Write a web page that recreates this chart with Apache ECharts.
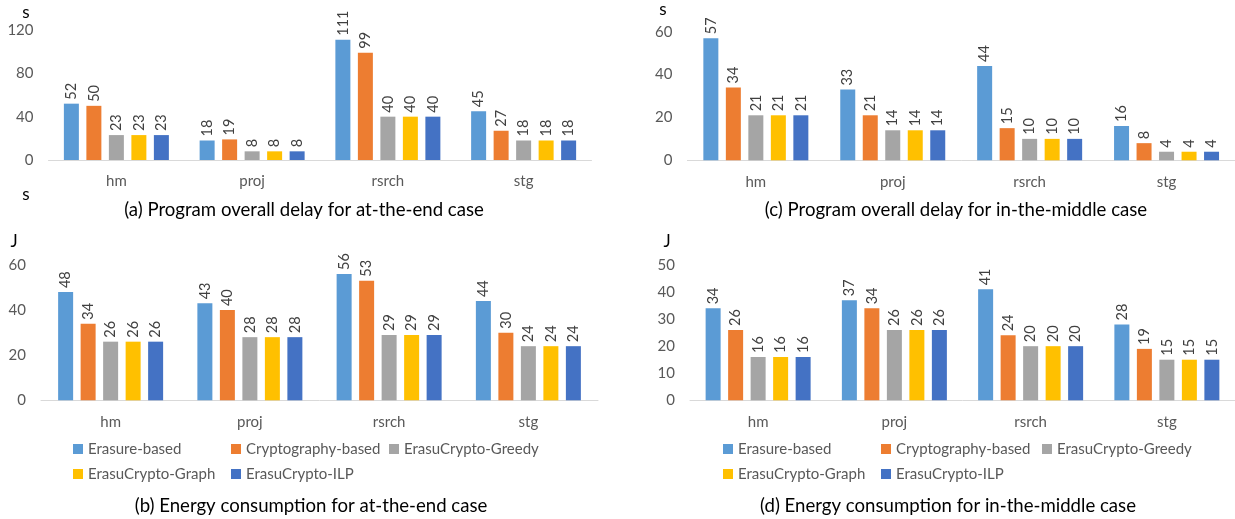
<!DOCTYPE html>
<html><head><meta charset="utf-8">
<script src="https://cdn.jsdelivr.net/npm/echarts@6/dist/echarts.min.js"></script>
<style>html,body{margin:0;padding:0;background:#fff}#c{width:1235px;height:519px}</style>
</head><body><div id="c"></div>
<script>
const categories = ['hm', 'proj', 'rsrch', 'stg'];
const seriesNames = ['Erasure-based', 'Cryptography-based', 'ErasuCrypto-Greedy', 'ErasuCrypto-Graph', 'ErasuCrypto-ILP'];
const colors = ['#5B9BD5', '#ED7D31', '#A5A5A5', '#FFC000', '#4472C4'];

// (a) Program overall delay, at-the-end (s)
const delayEnd_Erasure = [52, 18, 111, 45];
const delayEnd_Crypto  = [50, 19, 99, 27];
const delayEnd_Greedy  = [23, 8, 40, 18];
const delayEnd_Graph   = [23, 8, 40, 18];
const delayEnd_ILP     = [23, 8, 40, 18];
// (c) Program overall delay, in-the-middle (s)
const delayMid_Erasure = [57, 33, 44, 16];
const delayMid_Crypto  = [34, 21, 15, 8];
const delayMid_Greedy  = [21, 14, 10, 4];
const delayMid_Graph   = [21, 14, 10, 4];
const delayMid_ILP     = [21, 14, 10, 4];
// (b) Energy consumption, at-the-end (J)
const energyEnd_Erasure = [48, 43, 56, 44];
const energyEnd_Crypto  = [34, 40, 53, 30];
const energyEnd_Greedy  = [26, 28, 29, 24];
const energyEnd_Graph   = [26, 28, 29, 24];
const energyEnd_ILP     = [26, 28, 29, 24];
// (d) Energy consumption, in-the-middle (J)
const energyMid_Erasure = [34, 37, 41, 28];
const energyMid_Crypto  = [26, 34, 24, 19];
const energyMid_Greedy  = [16, 26, 20, 15];
const energyMid_Graph   = [16, 26, 20, 15];
const energyMid_ILP     = [16, 26, 20, 15];

const yTicksA = [0, 120, 40];
const yTicksC = [0, 60, 20];
const yTicksB = [0, 60, 20];
const yTicksD = [0, 50, 10];

const captions = [
  '(a) Program overall delay for at-the-end case',
  '(c) Program overall delay for in-the-middle case',
  '(b) Energy consumption for at-the-end case',
  '(d) Energy consumption for in-the-middle case'
];

const panels = [
  {data: [delayEnd_Erasure, delayEnd_Crypto, delayEnd_Greedy, delayEnd_Graph, delayEnd_ILP], ticks: yTicksA,
   grid: {left: 48.5, top: 30, width: 543, height: 130}},
  {data: [delayMid_Erasure, delayMid_Crypto, delayMid_Greedy, delayMid_Graph, delayMid_ILP], ticks: yTicksC,
   grid: {left: 687.4, top: 31.7, width: 551, height: 128.6}},
  {data: [energyEnd_Erasure, energyEnd_Crypto, energyEnd_Greedy, energyEnd_Graph, energyEnd_ILP], ticks: yTicksB,
   grid: {left: 41, top: 265, width: 557, height: 135.3}},
  {data: [energyMid_Erasure, energyMid_Crypto, energyMid_Greedy, energyMid_Graph, energyMid_ILP], ticks: yTicksD,
   grid: {left: 690, top: 265, width: 550, height: 135.3}}
];

const FONT = 'Lato';
const grids = [], xAxes = [], yAxes = [], series = [];
panels.forEach((p, i) => {
  grids.push(p.grid);
  xAxes.push({
    type: 'category', gridIndex: i, data: categories,
    axisLine: {lineStyle: {color: '#D9D9D9', width: 1}},
    axisTick: {show: false},
    axisLabel: {color: '#595959', fontSize: 15, fontFamily: FONT, margin: 14}
  });
  yAxes.push({
    type: 'value', gridIndex: i, min: p.ticks[0], max: p.ticks[1], interval: p.ticks[2],
    axisLine: {show: false}, axisTick: {show: false}, splitLine: {show: false},
    axisLabel: {color: '#595959', fontSize: 15, fontFamily: FONT, margin: 15}
  });
  p.data.forEach((vals, k) => {
    series.push({
      type: 'bar', name: seriesNames[k], xAxisIndex: i, yAxisIndex: i, data: vals,
      barWidth: 15, barGap: '50%',
      itemStyle: {color: colors[k]},
      label: {show: true, position: 'top', rotate: 90, align: 'left', verticalAlign: 'middle',
              distance: 4, color: '#404040', fontSize: 14.5, fontFamily: FONT},
      animation: false
    });
  });
});

const legends = [];
const legendPos = [
  [[73, 449], [231, 449], [389, 449], [73, 474], [231, 474]],
  [[723, 449], [881, 449], [1042, 449], [723, 474], [881, 474]]
];
legendPos.forEach(set => {
  set.forEach((pos, k) => {
    legends.push({
      data: [seriesNames[k]], left: pos[0], top: pos[1] - 8, padding: 0,
      itemWidth: 10, itemHeight: 10, icon: 'rect', selectedMode: false,
      textStyle: {color: '#595959', fontSize: 15, fontFamily: FONT, lineHeight: 16, padding: [0, 0, 0, 0]}
    });
  });
});

function txt(x, y, s, size, align) {
  return {type: 'text', x: x, y: y,
    style: {text: s, fill: '#000', fontSize: size, fontFamily: FONT, textAlign: align || 'center', textVerticalAlign: 'middle'}};
}

const graphics = [
  txt(26, 13, 's', 17), txt(26, 195, 's', 17), txt(663, 10, 's', 17),
  txt(14, 242, 'J', 17), txt(667, 242, 'J', 17),
  txt(304, 210, captions[0], 18.6), txt(956, 210, captions[1], 18.6),
  txt(311, 506, captions[2], 18.6), txt(948, 506, captions[3], 18.6)
];

const chart = echarts.init(document.getElementById('c'), null, {renderer: 'canvas'});
chart.setOption({
  animation: false,
  backgroundColor: '#fff',
  grid: grids, xAxis: xAxes, yAxis: yAxes, series: series,
  legend: legends, graphic: graphics
});
</script>
</body></html>
